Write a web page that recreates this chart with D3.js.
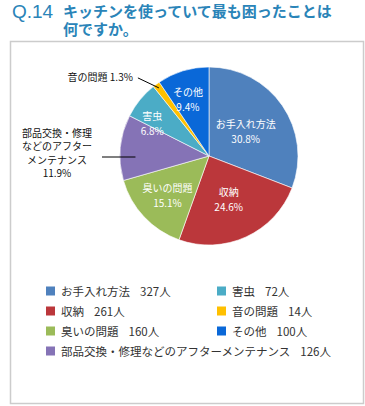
<!DOCTYPE html>
<html lang="ja">
<head>
  <meta charset="UTF-8"/>
  <title>Q.14 キッチンを使っていて最も困ったことは何ですか。</title>
  <style>
    html, body { margin: 0; padding: 0; background: #fff; }
    svg { display: block; font-family: "Noto Sans CJK JP", "Noto Sans", sans-serif; }
  </style>
</head>
<body>
<svg id="chart" width="365" height="406"></svg>

<script src="https://cdn.jsdelivr.net/npm/d3@7"></script>
<script>

// data (clockwise from 12 o'clock)
var categories = ["お手入れ方法", "収納", "臭いの問題", "部品交換・修理などのアフターメンテナンス", "害虫", "音の問題", "その他"];
var counts     = [327, 261, 160, 126, 72, 14, 100];
var percents   = [30.8, 24.6, 15.1, 11.9, 6.8, 1.3, 9.4];
var colors     = ["#4f81bd", "#bb373b", "#9bbb59", "#8573b6", "#4bacc6", "#ffc000", "#0a68d8"];

// legend order (two columns, last row spans)
var legendOrder = [0, 4, 1, 5, 2, 6, 3];

// how far out each inside label sits (share of the radius), like Excel placed them
var labelRadius = [0.5, 0.53, 0.64, 0, 0.74, 0, 0.68];
var labelTurn   = [0, 0, 0, 0, -0.15, 0, -0.06];   // small angle nudge, radians

var svg = d3.select("#chart");

// frame
svg.append("rect")
    .attr("x", 10.5).attr("y", 41.5)
    .attr("width", 353).attr("height", 362)
    .attr("fill", "none").attr("stroke", "#cccccc").attr("stroke-width", 1.5);

// title
var titleColor = "#2a84b8";
svg.append("text")
    .attr("x", 12).attr("y", 18)
    .attr("fill", titleColor)
    .style("font-family", "'Liberation Sans', Arial, sans-serif")
    .style("font-size", "19px")
    .text("Q.14");
svg.append("text")
    .attr("x", 63).attr("y", 17)
    .attr("fill", titleColor)
    .style("font-size", "15px").style("font-weight", "bold")
    .text("キッチンを使っていて最も困ったことは");
svg.append("text")
    .attr("x", 63).attr("y", 35)
    .attr("fill", titleColor)
    .style("font-size", "15px").style("font-weight", "bold")
    .text("何ですか。");

// pie
var cx = 209, cy = 156, r = 89;
var g = svg.append("g").attr("transform", "translate(" + cx + "," + cy + ")");

var pie = d3.pie().sort(null).value(function(d) { return d; });
var arcs = pie(counts);
var arc = d3.arc().innerRadius(0).outerRadius(r);

g.selectAll("path.slice")
    .data(arcs)
    .enter()
    .append("path")
        .attr("class", "slice")
        .attr("d", arc)
        .attr("fill", function(d, i) { return colors[i]; })
        .attr("stroke", "#ffffff")
        .attr("stroke-width", 0.6);

// point on the mid angle of a slice at radius rr
function midPoint(d, rr, turn) {
  var a = (d.startAngle + d.endAngle) / 2 + (turn || 0);
  return [rr * Math.sin(a), -rr * Math.cos(a)];
}

// inside labels (big enough slices)
var outside = [3, 5];
arcs.forEach(function(d, i) {
  if (outside.indexOf(i) >= 0) return;
  var c = midPoint(d, r * labelRadius[i], labelTurn[i]);
  var t = g.append("text")
      .attr("text-anchor", "middle")
      .attr("fill", "#ffffff")
      .style("font-size", "10px");
  t.append("tspan").attr("x", c[0]).attr("y", c[1] - 3).text(categories[i]);
  t.append("tspan").attr("x", c[0]).attr("y", c[1] + 12).text(percents[i].toFixed(1) + "%");
});

// outside label: 音の問題
(function() {
  var d = arcs[5];
  var p1 = midPoint(d, r * 0.95);
  var p0 = [p1[0] - 21, p1[1] - 10];
  g.append("line")
      .attr("x1", p0[0]).attr("y1", p0[1])
      .attr("x2", p1[0]).attr("y2", p1[1])
      .attr("stroke", "#000").attr("stroke-width", 1);
  g.append("text")
      .attr("x", p0[0] - 5).attr("y", p0[1] + 3)
      .attr("text-anchor", "end")
      .attr("fill", "#111")
      .style("font-size", "10px")
      .text(categories[5] + " " + percents[5].toFixed(1) + "%");
})();

// outside label: 部品交換・修理などのアフターメンテナンス (wrapped)
(function() {
  var d = arcs[3];
  var p1 = midPoint(d, r * 0.83);
  var y = 1;
  var x0 = -107;
  g.append("line")
      .attr("x1", x0).attr("y1", y)
      .attr("x2", p1[0]).attr("y2", y)
      .attr("stroke", "#000").attr("stroke-width", 1);
  var lines = ["部品交換・修理", "などのアフター", "メンテナンス", percents[3].toFixed(1) + "%"];
  var t = g.append("text")
      .attr("text-anchor", "middle")
      .attr("fill", "#111")
      .style("font-size", "10px");
  lines.forEach(function(s, k) {
    t.append("tspan").attr("x", x0 - 45).attr("y", -19 + k * 13.3).text(s);
  });
})();

// legend
var legend = svg.append("g");
legendOrder.forEach(function(i, k) {
  var col = k % 2, row = Math.floor(k / 2);
  var x = col === 0 ? 46 : 217;
  var y = 291 + row * 20;
  legend.append("rect")
      .attr("x", x).attr("y", y - 4.5)
      .attr("width", 9).attr("height", 9)
      .attr("fill", colors[i]);
  var t = legend.append("text")
      .attr("x", x + 15).attr("y", y + 4.5)
      .attr("fill", "#333")
      .style("font-size", "11.5px");
  t.append("tspan").text(categories[i]);
  t.append("tspan").attr("dx", 10).text(counts[i] + "人");
});

</script>
</body>
</html>
